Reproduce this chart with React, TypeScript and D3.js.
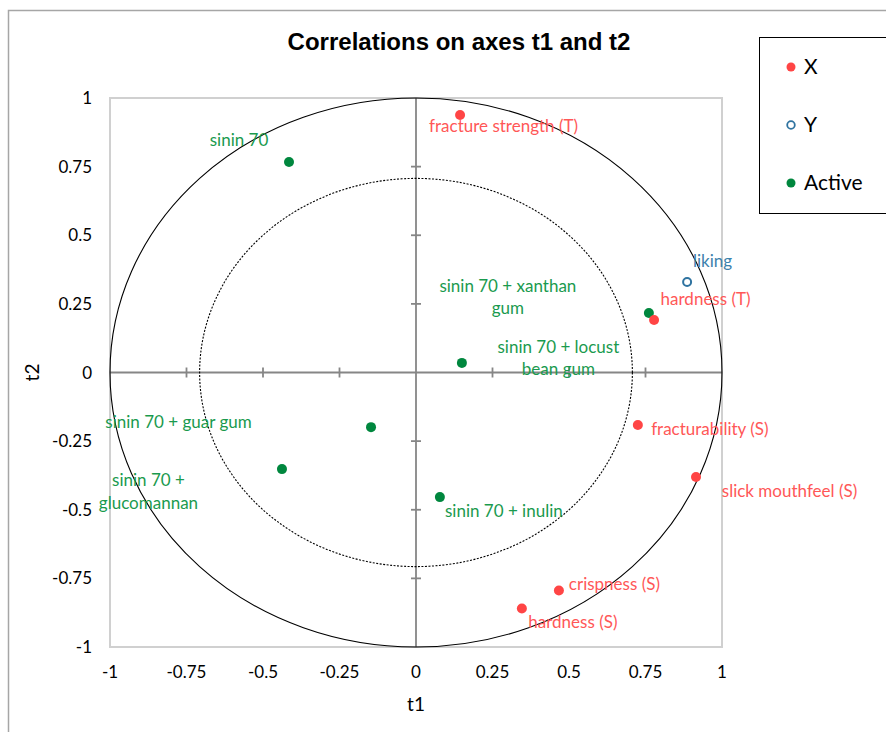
import React from "react";
import * as d3 from "d3";

// ---- Data ----
const xNames = [
  "fracture strength (T)",
  "hardness (T)",
  "fracturability (S)",
  "slick mouthfeel (S)",
  "crispness (S)",
  "hardness (S)",
];
const xT1 = [0.144, 0.778, 0.725, 0.915, 0.467, 0.346];
const xT2 = [0.938, 0.191, -0.191, -0.381, -0.794, -0.86];

const yNames = ["liking"];
const yT1 = [0.886];
const yT2 = [0.33];

const activeNames = [
  "sinin 70",
  "sinin 70 + xanthan gum",
  "sinin 70 + locust bean gum",
  "sinin 70 + guar gum",
  "sinin 70 + glucomannan",
  "sinin 70 + inulin",
];
const activeT1 = [-0.415, 0.761, 0.15, -0.147, -0.438, 0.078];
const activeT2 = [0.767, 0.217, 0.035, -0.199, -0.352, -0.454];

const tickValues = [-1, -0.75, -0.5, -0.25, 0, 0.25, 0.5, 0.75, 1];
const circleRadii = [1, Math.SQRT1_2];
const legendNames = ["X", "Y", "Active"];

// ---- Label layout (pixel offsets from point, text centre / baseline) ----
const labelLayout: Record<string, { dx: number; dy: number; lines: string[] }> = {
  "fracture strength (T)": { dx: 43.5, dy: 17, lines: ["fracture strength (T)"] },
  "hardness (T)": { dx: 51.5, dy: -15, lines: ["hardness (T)"] },
  "fracturability (S)": { dx: 72, dy: 10, lines: ["fracturability (S)"] },
  "slick mouthfeel (S)": { dx: 93.5, dy: 20, lines: ["slick mouthfeel (S)"] },
  "crispness (S)": { dx: 55.5, dy: 0, lines: ["crispness (S)"] },
  "hardness (S)": { dx: 51, dy: 19, lines: ["hardness (S)"] },
  liking: { dx: 25.5, dy: -15, lines: ["liking"] },
  "sinin 70": { dx: -50, dy: -16, lines: ["sinin 70"] },
  "sinin 70 + xanthan gum": { dx: -141, dy: -21, lines: ["sinin 70 + xanthan", "gum"] },
  "sinin 70 + locust bean gum": { dx: 96.5, dy: -10, lines: ["sinin 70 + locust", "bean gum"] },
  "sinin 70 + guar gum": { dx: -192.5, dy: 1, lines: ["sinin 70 + guar gum"] },
  "sinin 70 + glucomannan": { dx: -133.5, dy: 17, lines: ["sinin 70 +", "glucomannan"] },
  "sinin 70 + inulin": { dx: 64, dy: 20, lines: ["sinin 70 + inulin"] },
};

const RED = "#ff4545";
const RED_TXT = "#ff5757";
const GREEN = "#00873e";
const GREEN_TXT = "#1a9a4e";
const BLUE = "#2f73a0";
const BLUE_TXT = "#3d82ad";
const FONT = "Lato, 'Open Sans', sans-serif";

export default function App() {
  const W = 886;
  const H = 732;
  const x = d3.scaleLinear().domain([-1, 1]).range([110, 722]);
  const y = d3.scaleLinear().domain([-1, 1]).range([647, 98]);
  const fmt = (v: number) => String(v);

  const renderLabel = (name: string, px: number, py: number, color: string) => {
    const l = labelLayout[name];
    return (
      <text
        key={"l" + name}
        x={px + l.dx}
        y={py + l.dy}
        textAnchor="middle"
        fill={color}
        fontFamily={FONT}
        fontSize={17}
      >
        {l.lines.map((s, i) => (
          <tspan key={i} x={px + l.dx} dy={i === 0 ? 0 : 22.5}>
            {s}
          </tspan>
        ))}
      </text>
    );
  };

  const inner = tickValues.filter((v) => v !== 0 && Math.abs(v) !== 1);

  return (
    <div style={{ position: "absolute", left: 0, top: 0, width: W, height: H, overflow: "hidden", background: "#fff" }}>
      <svg width={W} height={H} style={{ display: "block" }}>
        <rect x={0} y={0} width={W} height={H} fill="#fff" />
        {/* outer chart frame */}
        <rect x={8.5} y={10.5} width={1000} height={1000} fill="none" stroke="#a6a6a6" strokeWidth={1.5} />

        {/* title */}
        <text x={459} y={50} textAnchor="middle" fontFamily="'Liberation Sans', Arial, sans-serif" fontWeight="bold" fontSize={24} fill="#000">
          Correlations on axes t1 and t2
        </text>

        {/* plot area border */}
        <rect x={x(-1)} y={y(1)} width={x(1) - x(-1)} height={y(-1) - y(1)} fill="none" stroke="#d0d0d0" strokeWidth={2} />

        {/* axes */}
        <line x1={x(-1)} x2={x(1)} y1={y(0)} y2={y(0)} stroke="#868686" strokeWidth={1.8} />
        <line x1={x(0)} x2={x(0)} y1={y(1)} y2={y(-1)} stroke="#868686" strokeWidth={1.8} />
        {inner.map((v) => (
          <line key={"tx" + v} x1={x(v)} x2={x(v)} y1={y(0) - 5} y2={y(0) + 5} stroke="#868686" strokeWidth={1.8} />
        ))}
        {inner.map((v) => (
          <line key={"ty" + v} x1={x(0) - 5} x2={x(0) + 5} y1={y(v)} y2={y(v)} stroke="#868686" strokeWidth={1.8} />
        ))}

        {/* circles */}
        {circleRadii.map((r, i) => (
          <ellipse
            key={"c" + i}
            cx={x(0)}
            cy={y(0)}
            rx={x(r) - x(0)}
            ry={y(0) - y(r)}
            fill="none"
            stroke="#000"
            strokeWidth={1.1}
            strokeDasharray={i === 0 ? undefined : "2,1.5"}
          />
        ))}

        {/* tick labels */}
        {tickValues.map((v) => (
          <text key={"xl" + v} x={x(v)} y={678} textAnchor="middle" fontFamily={FONT} fontSize={17} fill="#000">
            {fmt(v)}
          </text>
        ))}
        {tickValues.map((v) => (
          <text key={"yl" + v} x={92} y={y(v) + 6} textAnchor="end" fontFamily={FONT} fontSize={17} fill="#000">
            {fmt(v)}
          </text>
        ))}

        {/* axis titles */}
        <text x={x(0)} y={711} textAnchor="middle" fontFamily={FONT} fontSize={19} fill="#000">
          t1
        </text>
        <text
          transform={`translate(39,${y(0)}) rotate(-90)`}
          textAnchor="middle"
          fontFamily={FONT}
          fontSize={19}
          fill="#000"
        >
          t2
        </text>

        {/* active points */}
        {activeNames.map((n, i) => (
          <g key={"a" + n}>
            <circle cx={x(activeT1[i])} cy={y(activeT2[i])} r={5} fill={GREEN} />
            {renderLabel(n, x(activeT1[i]), y(activeT2[i]), GREEN_TXT)}
          </g>
        ))}
        {/* X points */}
        {xNames.map((n, i) => (
          <g key={"x" + n}>
            <circle cx={x(xT1[i])} cy={y(xT2[i])} r={5} fill={RED} />
            {renderLabel(n, x(xT1[i]), y(xT2[i]), RED_TXT)}
          </g>
        ))}
        {/* Y points */}
        {yNames.map((n, i) => (
          <g key={"y" + n}>
            <circle cx={x(yT1[i])} cy={y(yT2[i])} r={4} fill="#fff" stroke={BLUE} strokeWidth={2} />
            {renderLabel(n, x(yT1[i]), y(yT2[i]), BLUE_TXT)}
          </g>
        ))}

        {/* legend */}
        <rect x={759.5} y={37.5} width={300} height={176} fill="#fff" stroke="#000" strokeWidth={1} />
        {legendNames.map((n, i) => {
          const cy = 67 + i * 58;
          return (
            <g key={"lg" + n}>
              {n === "Y" ? (
                <circle cx={791} cy={cy} r={3.8} fill="#fff" stroke={BLUE} strokeWidth={1.8} />
              ) : (
                <circle cx={791} cy={cy} r={4.5} fill={n === "X" ? RED : GREEN} />
              )}
              <text x={804} y={cy + 7} fontFamily={FONT} fontSize={21} fill="#000">
                {n}
              </text>
            </g>
          );
        })}
      </svg>
    </div>
  );
}
